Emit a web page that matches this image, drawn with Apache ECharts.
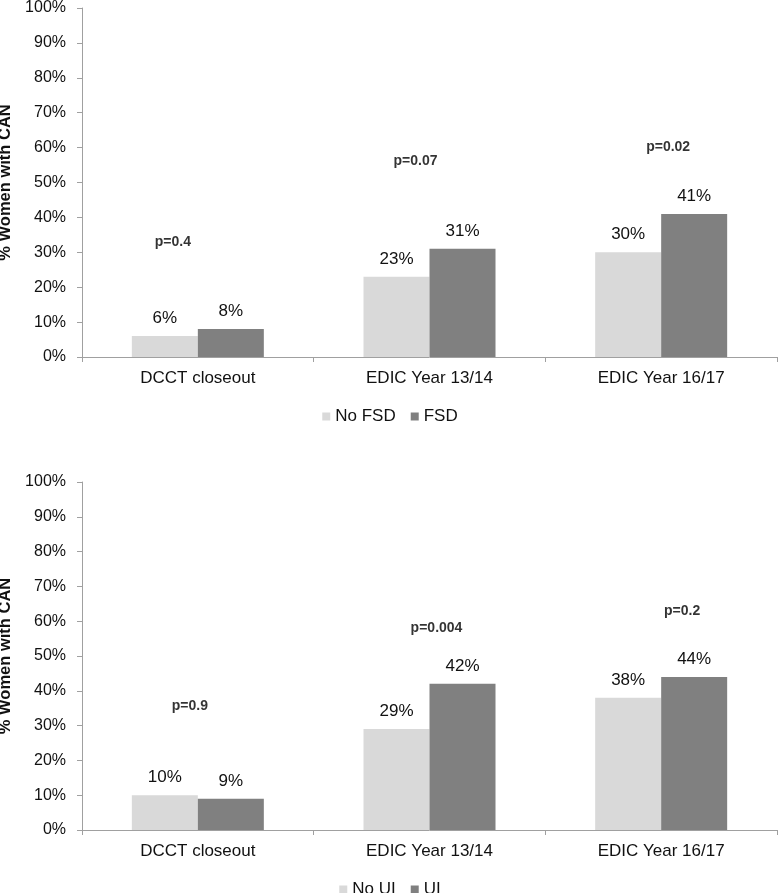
<!DOCTYPE html>
<html>
<head>
<meta charset="utf-8">
<script src="https://cdn.jsdelivr.net/npm/echarts@6/dist/echarts.min.js"></script>
<style>
html,body{margin:0;padding:0;background:#fff;}
#chart{width:780px;height:893px;}
</style>
</head>
<body>
<div id="chart"></div>
<script>
// ---- data ----
const categories = ['DCCT closeout', 'EDIC Year 13/14', 'EDIC Year 16/17'];
const yTickLabels = ['0%','10%','20%','30%','40%','50%','60%','70%','80%','90%','100%'];

const topNames = ['No FSD', 'FSD'];
const noFSD = [6, 23, 30];
const FSD = [8, 31, 41];
const topPValues = ['p=0.4', 'p=0.07', 'p=0.02'];
const topPHeight = [33, 56, 60];

const bottomNames = ['No UI', 'UI'];
const noUI = [10, 29, 38];
const UI = [9, 42, 44];
const bottomPValues = ['p=0.9', 'p=0.004', 'p=0.2'];
const bottomPHeight = [35.5, 58, 63];

// ---- styling ----
const FONT = '"Liberation Sans", Arial, sans-serif';
const LIGHT = '#d9d9d9';
const DARK = '#808080';
const AXIS = '#a0a0a0';
const pOffsetsTop = [-25, -14, 7];
const pOffsetsBottom = [-8, 7, 21];

function xAxis(gi) {
  return {
    type: 'category', gridIndex: gi, data: categories,
    axisLine: {lineStyle: {color: AXIS, width: 1}},
    axisTick: {show: true, length: 5, lineStyle: {color: AXIS}},
    axisLabel: {fontFamily: FONT, fontSize: 17, color: '#111', margin: 13}
  };
}
function yAxis(gi) {
  return {
    type: 'value', gridIndex: gi, min: 0, max: 100, interval: 10,
    name: '% Women with CAN', nameLocation: 'middle', nameGap: 61,
    nameTextStyle: {fontFamily: FONT, fontSize: 16.5, fontWeight: 'bold', color: '#111'},
    axisLine: {show: true, lineStyle: {color: AXIS, width: 1}},
    axisTick: {show: true, length: 5, lineStyle: {color: AXIS}},
    splitLine: {show: false},
    axisLabel: {fontFamily: FONT, fontSize: 16, color: '#111', margin: 16,
      formatter: v => yTickLabels[Math.round(v / 10)]}
  };
}
function barSeries(name, data, color, gi) {
  return {
    type: 'bar', name: name, data: data, xAxisIndex: gi, yAxisIndex: gi,
    barWidth: 66, barGap: '0%',
    itemStyle: {color: color},
    label: {show: true, position: 'top', distance: 9, formatter: p => p.value + '%',
      fontFamily: FONT, fontSize: 17, color: '#111'}
  };
}
function pSeries(texts, heights, offsets, gi) {
  return {
    type: 'scatter', xAxisIndex: gi, yAxisIndex: gi, symbolSize: 0, silent: true,
    data: heights.map((h, i) => ({value: [i, h], label: {offset: [offsets[i], 0]}})),
    label: {show: true, position: 'inside',
      formatter: p => texts[p.dataIndex],
      fontFamily: FONT, fontSize: 14, fontWeight: 'bold', color: '#000'}
  };
}

const chart = echarts.init(document.getElementById('chart'), null, {renderer: 'canvas'});
chart.setOption({
  animation: false,
  backgroundColor: '#fff',
  grid: [
    {left: 82, top: 8, width: 695, height: 349, containLabel: false, outerBoundsMode: 'none'},
    {left: 82, top: 482, width: 695, height: 348, containLabel: false, outerBoundsMode: 'none'}
  ],
  xAxis: [xAxis(0), xAxis(1)],
  yAxis: [yAxis(0), yAxis(1)],
  legend: [
    {data: topNames, top: 403, left: 'center', icon: 'rect', itemWidth: 8, itemHeight: 8, itemGap: 15,
     textStyle: {fontFamily: FONT, fontSize: 17, color: '#111'}},
    {data: bottomNames, top: 876, left: 'center', icon: 'rect', itemWidth: 8, itemHeight: 8, itemGap: 15,
     textStyle: {fontFamily: FONT, fontSize: 17, color: '#111'}}
  ],
  series: [
    barSeries(topNames[0], noFSD, LIGHT, 0),
    barSeries(topNames[1], FSD, DARK, 0),
    pSeries(topPValues, topPHeight, pOffsetsTop, 0),
    barSeries(bottomNames[0], noUI, LIGHT, 1),
    barSeries(bottomNames[1], UI, DARK, 1),
    pSeries(bottomPValues, bottomPHeight, pOffsetsBottom, 1)
  ]
});
</script>
</body>
</html>
